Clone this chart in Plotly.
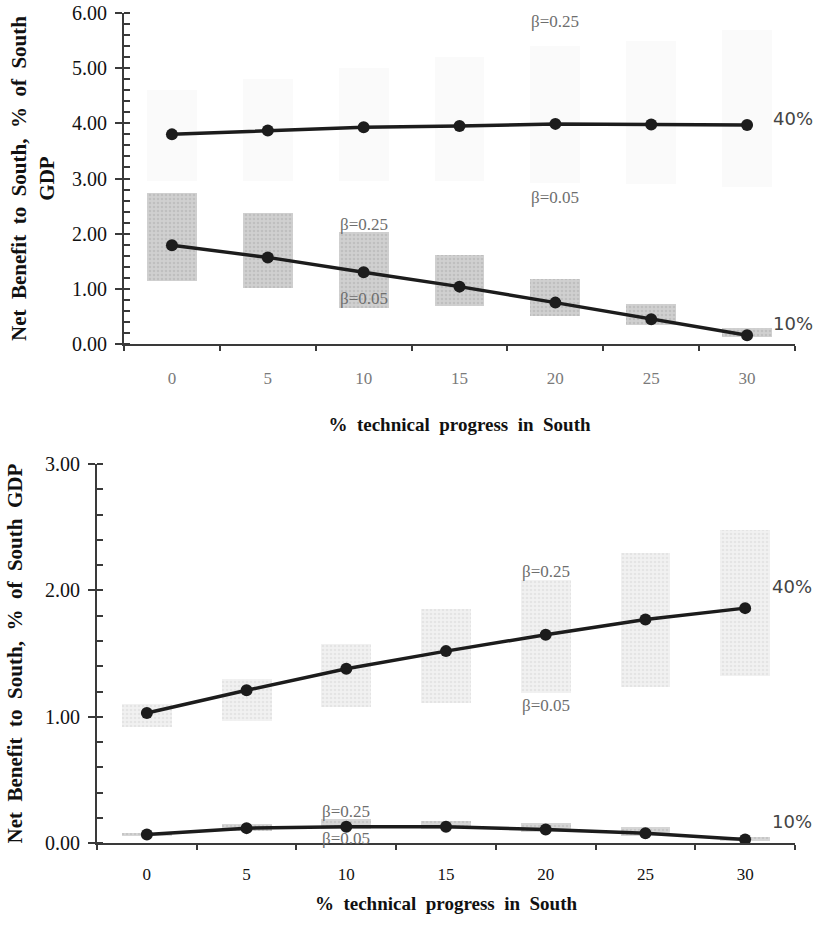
import plotly.graph_objects as go

# ---------------- data ----------------
progress = [0, 5, 10, 15, 20, 25, 30]
progress_labels = ["0", "5", "10", "15", "20", "25", "30"]
tick_bounds = [-2.5, 2.5, 7.5, 12.5, 17.5, 22.5, 27.5, 32.5]

# top panel (net benefit, % of South GDP)
top_40 = [3.80, 3.87, 3.93, 3.95, 3.99, 3.98, 3.97]
top_40_low = [2.95, 2.95, 2.95, 2.95, 2.92, 2.90, 2.85]   # beta = 0.05
top_40_high = [4.60, 4.80, 5.00, 5.20, 5.40, 5.50, 5.70]  # beta = 0.25
top_10 = [1.79, 1.57, 1.30, 1.04, 0.75, 0.45, 0.16]
top_10_low = [1.15, 1.01, 0.65, 0.69, 0.51, 0.34, 0.12]
top_10_high = [2.74, 2.37, 2.03, 1.61, 1.17, 0.72, 0.29]

# bottom panel
bot_40 = [1.03, 1.21, 1.38, 1.52, 1.65, 1.77, 1.86]
bot_40_low = [0.92, 0.97, 1.08, 1.11, 1.19, 1.24, 1.32]
bot_40_high = [1.10, 1.30, 1.58, 1.85, 2.08, 2.30, 2.48]
bot_10 = [0.07, 0.12, 0.13, 0.13, 0.11, 0.08, 0.03]
bot_10_low = [0.06, 0.10, 0.11, 0.11, 0.09, 0.06, 0.02]
bot_10_high = [0.08, 0.15, 0.19, 0.18, 0.16, 0.13, 0.05]

top_yticks = [0, 1, 2, 3, 4, 5, 6]
top_ylabels = ["0.00", "1.00", "2.00", "3.00", "4.00", "5.00", "6.00"]
bot_yticks = [0, 1, 2, 3]
bot_ylabels = ["0.00", "1.00", "2.00", "3.00"]

# ---------------- styling ----------------
W, H = 819, 930
SERIF = "Liberation Serif, Times New Roman, serif"
SANS = "DejaVu Sans, Arial, sans-serif"
LINE = "#1c1c1c"
AXC = "#3a3a3a"


def fx(p):
    return p / W


def fy(p):
    return 1 - p / H


fig = go.Figure()


def box_trace(low, high, width, bg, fg, xa, ya, pattern=True):
    marker = dict(color=bg, line=dict(width=0))
    if pattern:
        marker["pattern"] = dict(shape=".", fgcolor=fg, bgcolor=bg, size=4, solidity=0.35)
    return go.Bar(
        x=progress, y=[h - l for h, l in zip(high, low)], base=low, width=width,
        marker=marker, xaxis=xa, yaxis=ya, showlegend=False, hoverinfo="skip")


def line_trace(vals, xa, ya):
    return go.Scatter(
        x=progress, y=vals, mode="lines+markers",
        line=dict(color=LINE, width=3.5),
        marker=dict(color=LINE, size=12),
        xaxis=xa, yaxis=ya, showlegend=False)


# top panel
fig.add_trace(box_trace(top_40_low, top_40_high, 2.6, "#fafafa", "#fafafa", "x", "y", pattern=False))
fig.add_trace(box_trace(top_10_low, top_10_high, 2.6, "#d0d0d0", "#adadad", "x", "y"))
fig.add_trace(line_trace(top_40, "x", "y"))
fig.add_trace(line_trace(top_10, "x", "y"))

# bottom panel
fig.add_trace(box_trace(bot_40_low, bot_40_high, 2.5, "#f1f1f1", "#d8d8d8", "x2", "y2"))
fig.add_trace(box_trace(bot_10_low, bot_10_high, 2.5, "#d6d6d6", "#b5b5b5", "x2", "y2"))
fig.add_trace(line_trace(bot_40, "x2", "y2"))
fig.add_trace(line_trace(bot_10, "x2", "y2"))

# domains (paper fractions, from page pixel positions)
top_x = [fx(124), fx(795)]
top_y = [fy(344), fy(13)]
bot_x = [fx(97), fx(795)]
bot_y = [fy(843.3), fy(464)]

xr = [-2.5, 32.5]


def xaxis_main(domain, anchor, labcolor, title, standoff, lstand):
    return dict(
        domain=domain, anchor=anchor, range=xr, fixedrange=True,
        showline=True, linecolor=AXC, linewidth=2, showgrid=False, zeroline=False,
        tickmode="array", tickvals=progress, ticktext=progress_labels, ticks="",
        tickfont=dict(family=SERIF, size=17, color=labcolor),
        ticklabelstandoff=lstand, ticklabeloverflow="allow",
        minor=dict(tickmode="array", tickvals=tick_bounds, ticks="outside",
                   ticklen=5, tickwidth=2, tickcolor=AXC),
        title=dict(text=title, font=dict(family=SERIF, size=19, color="#111"), standoff=standoff),
        automargin=False)


def xaxis_over(over, anchor):
    return dict(
        overlaying=over, anchor=anchor, side="bottom", range=xr, fixedrange=True,
        showline=False, showgrid=False, zeroline=False, showticklabels=False,
        tickmode="array", tickvals=tick_bounds, ticks="inside",
        ticklen=7, tickwidth=2, tickcolor=AXC)


def yaxis_main(domain, anchor, rng, tv, tt, title, standoff):
    return dict(
        domain=domain, anchor=anchor, range=rng, fixedrange=True,
        showline=True, linecolor=AXC, linewidth=2, showgrid=False, zeroline=False,
        tickmode="array", tickvals=tv, ticktext=tt, ticks="outside",
        ticklen=7, tickwidth=2, tickcolor=AXC,
        tickfont=dict(family=SERIF, size=20, color="#111"),
        ticklabelstandoff=4, ticklabeloverflow="allow",
        minor=dict(tickmode="linear", tick0=0, dtick=0.2, ticks="inside",
                   ticklen=6, tickwidth=1.5, tickcolor=AXC),
        title=dict(text=title, font=dict(family=SERIF, size=21, color="#111"), standoff=standoff),
        automargin=False)


def yaxis_over(over, anchor, rng, tv):
    return dict(
        overlaying=over, anchor=anchor, side="left", range=rng, fixedrange=True,
        showline=False, showgrid=False, zeroline=False, showticklabels=False,
        tickmode="array", tickvals=tv, ticks="inside",
        ticklen=7, tickwidth=2, tickcolor=AXC)


SP = " \u00a0"
xtitle = "<b>" + SP.join(["%", "technical", "progress", "in", "South"]) + "</b>"
ytitle_top = ("<b>" + SP.join(["Net", "Benefit", "to", "South,", "%", "of", "South"])
              + "</b><br><b>GDP</b>")
ytitle_bot = "<b>" + SP.join(["Net", "Benefit", "to", "South,", "%", "of", "South", "GDP"]) + "</b>"

fig.update_layout(
    width=W, height=H,
    margin=dict(l=0, r=0, t=0, b=0),
    paper_bgcolor="white", plot_bgcolor="white",
    barmode="overlay", bargap=0,
    showlegend=False,
    xaxis=xaxis_main(top_x, "y", "#7a7a7a", xtitle, 30, 18),
    yaxis=yaxis_main(top_y, "x", [0, 6], top_yticks, top_ylabels, ytitle_top, 12),
    xaxis3=xaxis_over("x", "y"),
    yaxis3=yaxis_over("y", "x", [0, 6], top_yticks),
    xaxis2=xaxis_main(bot_x, "y2", "#111", xtitle, 14, 14),
    yaxis2=yaxis_main(bot_y, "x2", [0, 3], bot_yticks, bot_ylabels, ytitle_bot, 17),
    xaxis4=xaxis_over("x2", "y2"),
    yaxis4=yaxis_over("y2", "x2", [0, 3], bot_yticks),
)

beta_font = dict(family=SERIF, size=17, color="#6e6e6e")
pct_font = dict(family=SANS, size=18, color="#444")

ann = []
# top panel labels
ann.append(dict(x=20, y=5.84, xref="x", yref="y", text="β=0.25", showarrow=False, font=beta_font))
ann.append(dict(x=20, y=2.65, xref="x", yref="y", text="β=0.05", showarrow=False, font=beta_font))
ann.append(dict(x=10, y=2.17, xref="x", yref="y", text="β=0.25", showarrow=False, font=beta_font))
ann.append(dict(x=10, y=0.82, xref="x", yref="y", text="β=0.05", showarrow=False, font=beta_font))
ann.append(dict(x=32.4, y=4.08, xref="x", yref="y", text="40%", showarrow=False, font=pct_font))
ann.append(dict(x=32.4, y=0.38, xref="x", yref="y", text="10%", showarrow=False, font=pct_font))
# bottom panel labels
ann.append(dict(x=20, y=2.15, xref="x2", yref="y2", text="β=0.25", showarrow=False, font=beta_font))
ann.append(dict(x=20, y=1.09, xref="x2", yref="y2", text="β=0.05", showarrow=False, font=beta_font))
ann.append(dict(x=10, y=0.25, xref="x2", yref="y2", text="β=0.25", showarrow=False, font=beta_font))
ann.append(dict(x=10, y=0.04, xref="x2", yref="y2", text="β=0.05", showarrow=False, font=beta_font))
ann.append(dict(x=32.35, y=2.03, xref="x2", yref="y2", text="40%", showarrow=False, font=pct_font))
ann.append(dict(x=32.35, y=0.17, xref="x2", yref="y2", text="10%", showarrow=False, font=pct_font))
fig.update_layout(annotations=ann)

fig.write_html(
    "out.html",
    config={"displayModeBar": False},
    post_script="document.body.style.margin='0';document.body.style.overflow='hidden';",
)
